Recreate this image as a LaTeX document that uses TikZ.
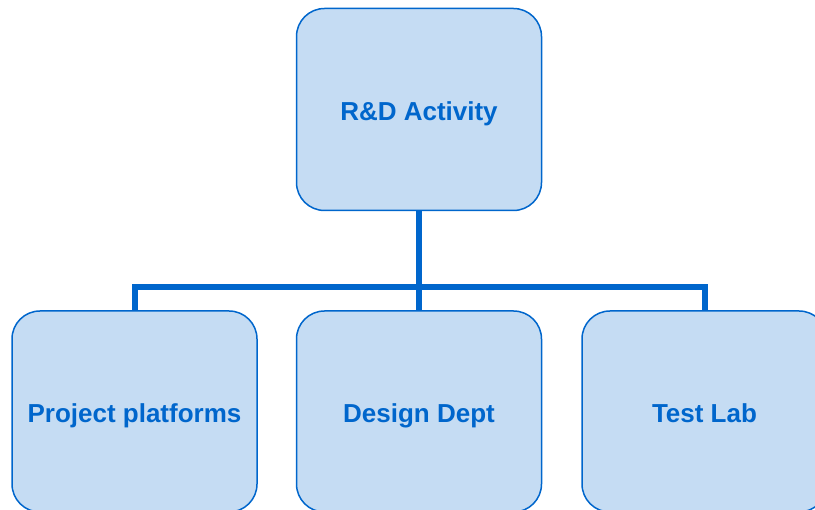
\documentclass[tikz,border=0pt]{standalone}
\usepackage{fontspec}
\setmainfont{Liberation Sans}
\usetikzlibrary{backgrounds}
\definecolor{boxfill}{HTML}{C5DCF3}
\definecolor{boxline}{HTML}{0066CC}
\tikzset{
  unitbox/.style={draw=boxline, fill=boxfill, line width=1.5pt,
    rounded corners=28pt, minimum width=245pt, minimum height=202pt,
    inner sep=0pt, text=boxline, text height=22pt, text depth=0pt,
    font=\fontsize{26}{30}\selectfont\bfseries},
  link/.style={draw=boxline, line width=6pt}
}
\begin{document}
\begin{tikzpicture}[x=1pt,y=1pt]
  \useasboundingbox (0,0) rectangle (815,510);
  \clip (0,0) rectangle (815,510);
  % top of the chart
  \node[unitbox] (rd) at (419,400.5) {R\&D Activity};
  % departments
  \node[unitbox, minimum height=201pt] (pp) at (134.5,98.5) {Project platforms};
  \node[unitbox, minimum height=201pt] (dd) at (419,98.5) {Design Dept};
  \node[unitbox, minimum height=201pt] (tl) at (704.5,98.5) {Test Lab};
  \coordinate (bus) at (419,222.5);
  \begin{scope}[on background layer]
    \draw[link] (rd.south) -- (rd.south |- bus) -| (pp.north);
    \draw[link] (rd.south |- bus) -| (tl.north);
    \draw[link] (rd.south |- bus) -- (dd.north);
  \end{scope}
\end{tikzpicture}
\end{document}
